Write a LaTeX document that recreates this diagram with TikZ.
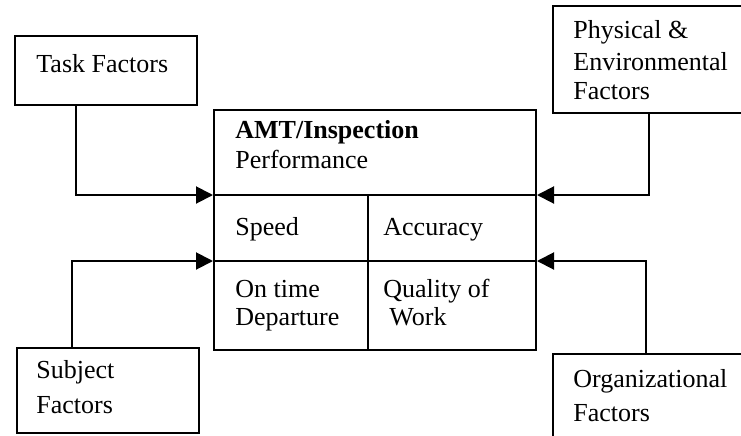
\documentclass[tikz,border=0pt]{standalone}
\usepackage{fontspec}
\setmainfont{Liberation Serif}
\usepackage{tikz}
\usetikzlibrary{positioning}
\usetikzlibrary{arrows.meta}

\tikzset{
  factorbox/.style={draw, line width=1pt, rectangle, inner sep=0pt, anchor=north west},
  txt/.style={inner sep=0pt, anchor=base west, font=\fontsize{13}{15}\selectfont},
  feed/.style={line width=1pt, -{Triangle[length=8.5pt,width=8.5pt]}},
}

\begin{document}
\begin{tikzpicture}[x=0.5pt, y=-0.5pt]
\useasboundingbox (0,0) rectangle (741,435);
\clip (0,0) rectangle (741,435);
%%%%%%%%%%%%%%
\node[factorbox, minimum width=91pt, minimum height=34.5pt] (task) at (14,35) {};
\node[factorbox, minimum width=124pt, minimum height=53.5pt] (phys) at (552,5) {};
\node[factorbox, minimum width=91pt, minimum height=42.5pt] (subj) at (16,347) {};
\node[factorbox, minimum width=124pt, minimum height=60pt] (org) at (552,353) {};
\node[factorbox, minimum width=161pt, minimum height=120pt] (perf) at (213,109) {};
%%%%%%%%%%%%%%
\coordinate (r1w) at ([yshift=-43pt]perf.north west);
\coordinate (r1e) at ([yshift=-43pt]perf.north east);
\coordinate (r2w) at ([yshift=-76pt]perf.north west);
\coordinate (r2e) at ([yshift=-76pt]perf.north east);
\coordinate (c1) at ([xshift=77.5pt]r1w);
\coordinate (c2) at ([xshift=77.5pt]perf.south west);
%%%%%%%%%%%%%%
\coordinate (taskout) at ([xshift=31pt]task.south west);
\coordinate (physout) at ([xshift=48.5pt]phys.south west);
\coordinate (subjout) at ([xshift=28pt]subj.north west);
\coordinate (orgout) at ([xshift=47pt]org.north west);
%%%%%%%%%%%%%%%%%%%%%%%%%%%%%%%%%%%%%%%%%%
\node[txt] (tasklbl) at (36,72) {Task Factors};
\node[txt] (phys1) at (573,38) {Physical \&};
\node[txt] (phys2) at (573,70) {Environmental};
\node[txt] (phys3) at (573,99) {Factors};
\node[txt] (subj1) at (36,378) {Subject};
\node[txt] (subj2) at (36,413) {Factors};
\node[txt] (org1) at (573,387) {Organizational};
\node[txt] (org2) at (573,421) {Factors};
%%%%%%%%%%%%%%
\node[txt] (title) at (235,138) {\textbf{AMT/Inspection}};
\node[txt] (perflbl) at (235,168) {Performance};
\node[txt] (speed) at (235,235) {Speed};
\node[txt] (acc) at (383,235) {Accuracy};
\node[txt] (ontime1) at (235,297) {On time};
\node[txt] (ontime2) at (235,325) {Departure};
\node[txt] (qual1) at (383,297) {Quality of};
\node[txt] (qual2) at (389,325) {Work};
%%%%%%%%%%%%%%%%%%%%%%%%%%%%%%%%%%%%%%%%%%
\draw[line width=1pt] (r1w) -- (r1e);
\draw[line width=1pt] (r2w) -- (r2e);
\draw[line width=1pt] (c1) -- (c2);
%%%%%%%%%%
\draw[feed] (taskout) |- (r1w);
\draw[feed] (physout) |- (r1e);
\draw[feed] (subjout) |- (r2w);
\draw[feed] (orgout) |- (r2e);
\end{tikzpicture}
\end{document}
